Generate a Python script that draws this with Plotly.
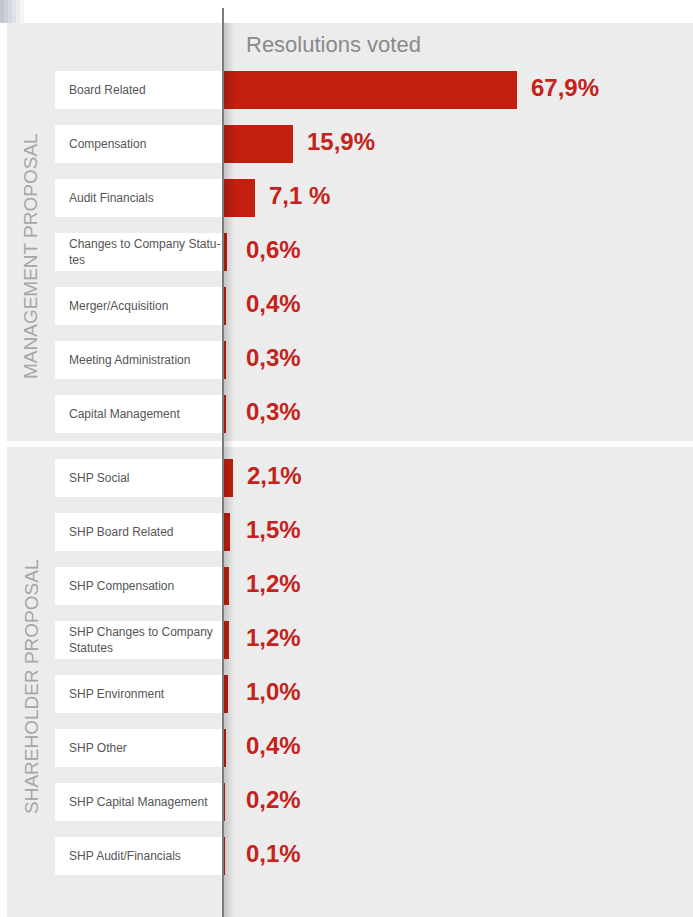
import plotly.graph_objects as go

# ---- data -------------------------------------------------------------
mgmt_categories = [
    "Board Related",
    "Compensation",
    "Audit Financials",
    "Changes to Company Statu-<br>tes",
    "Merger/Acquisition",
    "Meeting Administration",
    "Capital Management",
]
mgmt_values = [67.9, 15.9, 7.1, 0.6, 0.4, 0.3, 0.3]
mgmt_labels = ["67,9%", "15,9%", "7,1 %", "0,6%", "0,4%", "0,3%", "0,3%"]

shp_categories = [
    "SHP Social",
    "SHP Board Related",
    "SHP Compensation",
    "SHP Changes to Company<br>Statutes",
    "SHP Environment",
    "SHP Other",
    "SHP Capital Management",
    "SHP Audit/Financials",
]
shp_values = [2.1, 1.5, 1.2, 1.2, 1.0, 0.4, 0.2, 0.1]
shp_labels = ["2,1%", "1,5%", "1,2%", "1,2%", "1,0%", "0,4%", "0,2%", "0,1%"]

title_text = "Resolutions voted"
section_titles = ["MANAGEMENT PROPOSAL", "SHAREHOLDER PROPOSAL"]

# ---- geometry ---------------------------------------------------------
W, H = 693, 917
PX_PER_PCT = 4.315          # horizontal scale of the bars
X0_PX = 224                 # pixel where the bars start
ROW_PX = 54                 # row pitch
FIRST_ROW_PX = 90           # centre of the first row
SECTION_GAP = 10 / ROW_PX   # extra space between the two sections
BAR_W = 38 / ROW_PX

RED = "#c21f0f"
LABEL_RED = "#c4221a"
FONT = "Liberation Sans, Arial, Helvetica, sans-serif"


def px(x):
    return x / W


def py(y):
    return 1 - y / H


categories = mgmt_categories + shp_categories
values = mgmt_values + shp_values
labels = mgmt_labels + shp_labels
positions = [float(i) for i in range(len(mgmt_values))] + [
    len(mgmt_values) + SECTION_GAP + j for j in range(len(shp_values))
]

fig = go.Figure()
fig.add_trace(
    go.Bar(
        x=values,
        y=positions,
        orientation="h",
        width=BAR_W,
        marker=dict(color=RED, line=dict(width=0)),
        hoverinfo="skip",
        showlegend=False,
    )
)

shapes = []
# grey panel
shapes.append(dict(type="rect", xref="paper", yref="paper",
                   x0=px(7), x1=1, y0=0, y1=py(23),
                   fillcolor="#ececec", line=dict(width=0), layer="below"))
# top-left corner tint
for k in range(6):
    shapes.append(dict(type="rect", xref="paper", yref="paper",
                       x0=px(k * 4), x1=px(k * 4 + 4), y0=py(23), y1=1,
                       fillcolor="#aeb3c2", opacity=0.75 * (1 - k / 6),
                       line=dict(width=0), layer="below"))
# white separator between the sections
shapes.append(dict(type="rect", xref="paper", yref="paper",
                   x0=px(7), x1=1, y0=py(447), y1=py(441),
                   fillcolor="#ffffff", line=dict(width=0), layer="below"))
# white label boxes
for p in positions:
    shapes.append(dict(type="rect", xref="paper", yref="y",
                       x0=px(55), x1=px(222), y0=p - BAR_W / 2, y1=p + BAR_W / 2,
                       fillcolor="#ffffff", line=dict(width=0), layer="below"))
# vertical divider with soft shadow
for k in range(10):
    shapes.append(dict(type="rect", xref="paper", yref="paper",
                       x0=px(224 + k), x1=px(225 + k), y0=0, y1=py(23),
                       fillcolor="#000000", opacity=0.16 * (1 - k / 10),
                       line=dict(width=0), layer="above"))
shapes.append(dict(type="rect", xref="paper", yref="paper",
                   x0=px(222), x1=px(224), y0=0, y1=py(8),
                   fillcolor="#7c7c7c", line=dict(width=0), layer="above"))

annotations = []
annotations.append(dict(text=title_text, xref="paper", yref="paper",
                        x=px(244), y=py(44), xanchor="left", yanchor="middle",
                        showarrow=False,
                        font=dict(family=FONT, size=22, color="#8a8a8a")))

min_label_x = (244 - 12 - X0_PX) / PX_PER_PCT
for cat, val, lab, p in zip(categories, values, labels, positions):
    annotations.append(dict(text=cat, xref="paper", yref="y",
                            x=px(67), y=p, xanchor="left", yanchor="middle",
                            align="left", showarrow=False,
                            font=dict(family=FONT, size=12, color="#555555")))
    annotations.append(dict(text=f"<b>{lab}</b>", xref="x", yref="y",
                            x=max(val, min_label_x), y=p - 0.04, xshift=12,
                            xanchor="left", yanchor="middle", showarrow=False,
                            font=dict(family=FONT, size=24, color=LABEL_RED)))

section_centres = [256, 687]
for txt, cy in zip(section_titles, section_centres):
    annotations.append(dict(text=txt, xref="paper", yref="paper",
                            x=px(31), y=py(cy), textangle=-90,
                            xanchor="center", yanchor="middle", showarrow=False,
                            font=dict(family=FONT, size=19, color="#a6a6a6")))

fig.update_layout(
    width=W, height=H,
    margin=dict(l=0, r=0, t=0, b=0),
    paper_bgcolor="#ffffff",
    plot_bgcolor="rgba(0,0,0,0)",
    xaxis=dict(range=[-X0_PX / PX_PER_PCT, (W - X0_PX) / PX_PER_PCT],
               domain=[0, 1], visible=False, fixedrange=True),
    yaxis=dict(range=[(H - FIRST_ROW_PX) / ROW_PX, -FIRST_ROW_PX / ROW_PX],
               domain=[0, 1], visible=False, fixedrange=True),
    shapes=shapes,
    annotations=annotations,
    bargap=0,
)

fig.write_html("out.html", config={"displayModeBar": False})
